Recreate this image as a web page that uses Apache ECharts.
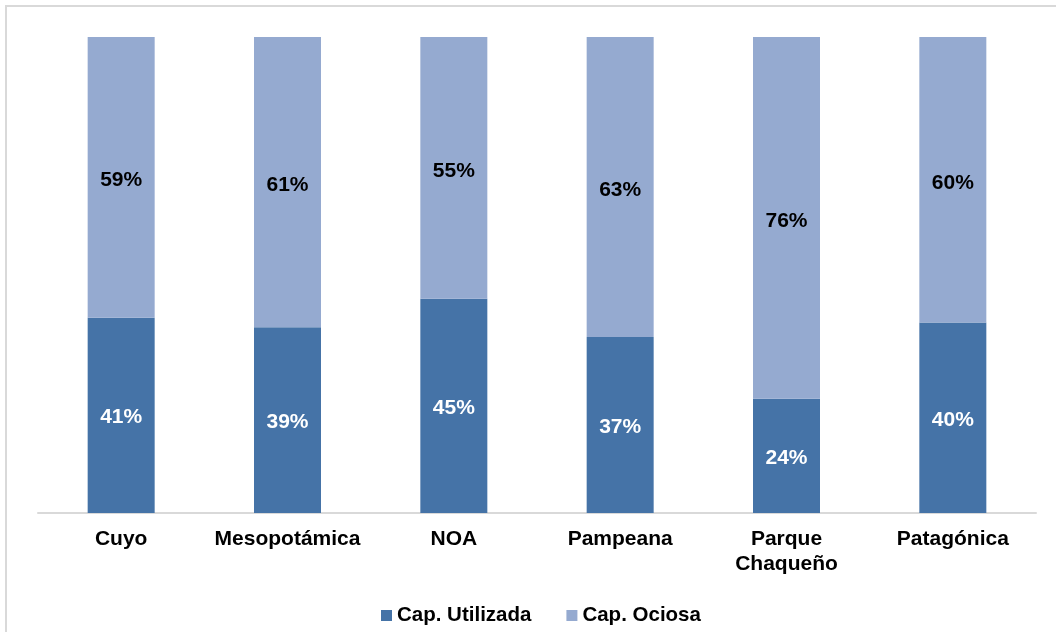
<!DOCTYPE html>
<html>
<head>
<meta charset="utf-8">
<script src="https://cdn.jsdelivr.net/npm/echarts@6/dist/echarts.min.js"></script>
<style>
html,body{margin:0;padding:0;background:#fff;}
#chart{width:1056px;height:632px;}
</style>
</head>
<body>
<div id="chart"></div>
<script>
const categories = ['Cuyo', 'Mesopotámica', 'NOA', 'Pampeana', 'Parque\nChaqueño', 'Patagónica'];
const capUtilizada = [41, 39, 45, 37, 24, 40];
const capOciosa = [59, 61, 55, 63, 76, 60];
const seriesNames = ['Cap. Utilizada', 'Cap. Ociosa'];

const FONT = 'Liberation Sans, Arial, sans-serif';
const chart = echarts.init(document.getElementById('chart'), null, {renderer: 'canvas'});
chart.setOption({
  animation: false,
  backgroundColor: '#ffffff',
  graphic: [{
    type: 'rect',
    shape: {x: 6, y: 6, width: 1070, height: 650},
    style: {fill: 'none', stroke: '#d9d9d9', lineWidth: 2},
    silent: true
  }],
  grid: {left: 38, right: 20, top: 37, bottom: 119, containLabel: false},
  legend: {
    left: 376,
    top: 600,
    itemWidth: 11,
    itemHeight: 11,
    itemGap: 35,
    icon: 'rect',
    textStyle: {fontFamily: FONT, fontSize: 20.5, fontWeight: 'bold', color: '#000'},
    data: seriesNames
  },
  xAxis: {
    type: 'category',
    data: categories,
    axisLine: {show: true, lineStyle: {color: '#d9d9d9', width: 2}},
    axisTick: {show: false},
    axisLabel: {
      interval: 0,
      margin: 14,
      fontFamily: FONT,
      fontSize: 21,
      fontWeight: 'bold',
      color: '#000',
      lineHeight: 25
    }
  },
  yAxis: {
    type: 'value',
    min: 0,
    max: 100,
    show: false,
    splitLine: {show: false}
  },
  series: [
    {
      name: seriesNames[0],
      type: 'bar',
      stack: 'total',
      barWidth: 67,
      data: capUtilizada,
      itemStyle: {color: '#4573a7'},
      label: {
        show: true,
        position: 'inside',
        offset: [0, 2],
        formatter: '{c}%',
        fontFamily: FONT,
        fontSize: 21,
        fontWeight: 'bold',
        color: '#ffffff'
      }
    },
    {
      name: seriesNames[1],
      type: 'bar',
      stack: 'total',
      barWidth: 67,
      data: capOciosa,
      itemStyle: {color: '#95aad0'},
      label: {
        show: true,
        position: 'inside',
        offset: [0, 3],
        formatter: '{c}%',
        fontFamily: FONT,
        fontSize: 21,
        fontWeight: 'bold',
        color: '#000000'
      }
    }
  ]
});
</script>
</body>
</html>
